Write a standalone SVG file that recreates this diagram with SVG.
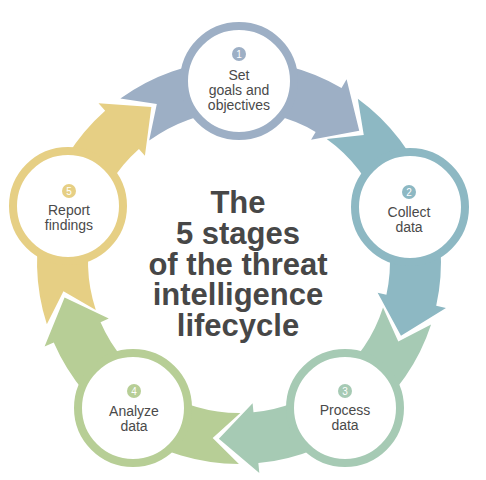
<svg xmlns="http://www.w3.org/2000/svg" xmlns:xlink="http://www.w3.org/1999/xlink" width="486" height="480" viewBox="0 0 486 480">
  <style>
    .ring { fill: #ffffff; stroke-width: 8; }
    .lbl { font-family: "Liberation Sans", Arial, sans-serif; font-size: 14px; fill: #4a4a4a; text-anchor: middle; }
    .num { font-family: "Liberation Sans", Arial, sans-serif; font-size: 10px; fill: #ffffff; text-anchor: middle; }
    .title { font-family: "Liberation Sans", Arial, sans-serif; font-weight: bold; font-size: 31px; fill: #474747; text-anchor: middle; }
  </style>
  <defs>
    <path id="arrow" d="M -118.65,-163.48 A 202 202 0 0 1 102.52,-174.04 L 107.59,-182.66 L 120.26,-131.24 L 72.07,-122.35 L 76.63,-130.10 A 151 151 0 0 0 -89.81,-121.39 L -82.18,-157.89 Z"/>
  </defs>
  <rect width="486" height="480" fill="#ffffff"/>
  <g id="connectors">
    <use xlink:href="#arrow" href="#arrow" transform="translate(239,262) rotate(0)" fill="#9dafc5"/>
    <use xlink:href="#arrow" href="#arrow" transform="translate(239,262) rotate(72)" fill="#8db8c3"/>
    <use xlink:href="#arrow" href="#arrow" transform="translate(239,262) rotate(144)" fill="#a6cab4"/>
    <use xlink:href="#arrow" href="#arrow" transform="translate(239,262) rotate(216)" fill="#b7ce96"/>
    <use xlink:href="#arrow" href="#arrow" transform="translate(239,262) rotate(288)" fill="#e6cf84"/>
  </g>
  <g id="node1">
    <circle class="ring" cx="239" cy="81" r="55" stroke="#9dafc5"/>
    <circle cx="239" cy="54" r="7" fill="#9dafc5"/>
    <text class="num" x="239" y="57.5">1</text>
    <text class="lbl" x="239" y="80">Set</text>
    <text class="lbl" x="239" y="95">goals and</text>
    <text class="lbl" x="239" y="110">objectives</text>
  </g>
  <g id="node2">
    <circle class="ring" cx="410" cy="207" r="55" stroke="#8db8c3"/>
    <circle cx="409" cy="192" r="7" fill="#8db8c3"/>
    <text class="num" x="409" y="195.5">2</text>
    <text class="lbl" x="409" y="217">Collect</text>
    <text class="lbl" x="409" y="232">data</text>
  </g>
  <g id="node3">
    <circle class="ring" cx="345" cy="408" r="55" stroke="#a6cab4"/>
    <circle cx="345" cy="391" r="7" fill="#a6cab4"/>
    <text class="num" x="345" y="394.5">3</text>
    <text class="lbl" x="345" y="415">Process</text>
    <text class="lbl" x="345" y="430">data</text>
  </g>
  <g id="node4">
    <circle class="ring" cx="133" cy="408" r="55" stroke="#b7ce96"/>
    <circle cx="134" cy="391" r="7" fill="#b7ce96"/>
    <text class="num" x="134" y="394.5">4</text>
    <text class="lbl" x="134" y="416">Analyze</text>
    <text class="lbl" x="134" y="431">data</text>
  </g>
  <g id="node5">
    <circle class="ring" cx="68" cy="206" r="55" stroke="#e6cf84"/>
    <circle cx="69" cy="191" r="7" fill="#e6cf84"/>
    <text class="num" x="69" y="194.5">5</text>
    <text class="lbl" x="69" y="215">Report</text>
    <text class="lbl" x="69" y="230">findings</text>
  </g>
  <g id="title">
    <text class="title" x="238" y="213">The</text>
    <text class="title" x="238" y="243.5">5 stages</text>
    <text class="title" x="238" y="274.5">of the threat</text>
    <text class="title" x="238" y="305">intelligence</text>
    <text class="title" x="238" y="336">lifecycle</text>
  </g>
</svg>
